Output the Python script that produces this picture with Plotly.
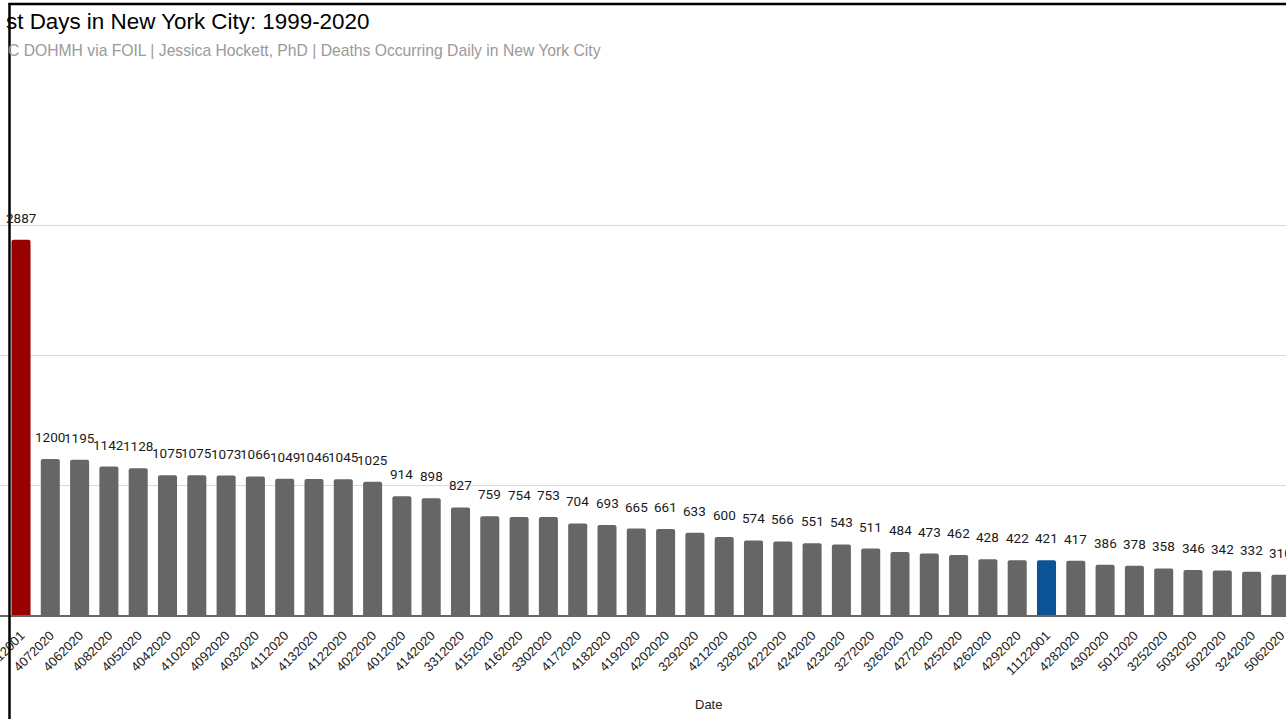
import plotly.graph_objects as go

dates = ["9112001", "4072020", "4062020", "4082020", "4052020", "4042020", "4102020",
         "4092020", "4032020", "4112020", "4132020", "4122020", "4022020", "4012020",
         "4142020", "3312020", "4152020", "4162020", "3302020", "4172020", "4182020",
         "4192020", "4202020", "3292020", "4212020", "3282020", "4222020", "4242020",
         "4232020", "3272020", "3262020", "4272020", "4252020", "4262020", "4292020",
         "11122001", "4282020", "4302020", "5012020", "3252020", "5032020", "5022020",
         "3242020", "5062020"]
deaths = [2887, 1200, 1195, 1142, 1128, 1075, 1075, 1073, 1066, 1049, 1046, 1045, 1025,
          914, 898, 827, 759, 754, 753, 704, 693, 665, 661, 633, 600, 574, 566, 551,
          543, 511, 484, 473, 462, 428, 422, 421, 417, 386, 378, 358, 346, 342, 332, 310]
highlight_colors = {"9112001": "#990000", "11122001": "#0b5394"}
default_color = "#666666"

title_text = "st Days in New York City: 1999-2020"
subtitle_text = "C DOHMH via FOIL | Jessica Hockett, PhD | Deaths Occurring Daily in New York City"
x_title = "Date"

W, H = 1286, 719
PLOT_TOP, PLOT_BOTTOM = 95, 615
PLOT_H = PLOT_BOTTOM - PLOT_TOP
SLOT = 29.3
FIRST_CENTER = 21.0


def px_x(p):
    return p / W


def px_y(p):
    return (PLOT_BOTTOM - p) / PLOT_H


colors = [highlight_colors.get(d, default_color) for d in dates]

fig = go.Figure()
fig.add_trace(go.Bar(
    x=dates, y=deaths, marker=dict(color=colors, cornerradius=2, line=dict(width=0)),
    width=0.65, hoverinfo="x+y", showlegend=False,
))

annotations = []
for i, v in enumerate(deaths):
    annotations.append(dict(
        x=i, y=v, xref="x", yref="y", text=str(v), showarrow=False,
        yanchor="bottom", xanchor="center", yshift=12,
        font=dict(family="Roboto", size=13.5, color="#1a1a1a"),
    ))

annotations += [
    dict(x=px_x(4), y=px_y(21), xref="paper", yref="paper", text=title_text,
         showarrow=False, xanchor="left", yanchor="middle",
         font=dict(family="Liberation Sans, Arial", size=22.4, color="#000000")),
    dict(x=px_x(6), y=px_y(50), xref="paper", yref="paper", text=subtitle_text,
         showarrow=False, xanchor="left", yanchor="middle",
         font=dict(family="Liberation Sans, Arial", size=15.7, color="#9a9a9a")),
    dict(x=px_x(708), y=px_y(704), xref="paper", yref="paper", text=x_title,
         showarrow=False, xanchor="center", yanchor="middle",
         font=dict(family="Liberation Sans, Arial", size=13, color="#222222")),
]

shapes = [
    dict(type="line", xref="paper", yref="paper", x0=px_x(9.5), x1=px_x(9.5),
         y0=px_y(3), y1=px_y(H), line=dict(color="#000000", width=2.5), layer="above"),
    dict(type="line", xref="paper", yref="paper", x0=px_x(8.5), x1=1.0,
         y0=px_y(4), y1=px_y(4), line=dict(color="#000000", width=2.5), layer="above"),
]

x_start = -FIRST_CENTER / SLOT
x_end = (W - FIRST_CENTER) / SLOT

fig.update_layout(
    width=W, height=H,
    margin=dict(l=0, r=0, t=PLOT_TOP, b=H - PLOT_BOTTOM, pad=0),
    paper_bgcolor="white", plot_bgcolor="white",
    annotations=annotations, shapes=shapes,
    xaxis=dict(
        type="category", range=[x_start, x_end], tickangle=-45,
        tickfont=dict(family="Liberation Sans, Arial", size=13, color="#222222"),
        showgrid=False, showline=True, linecolor="#666666", linewidth=1.5,
        ticks="outside", ticklen=6, tickcolor="rgba(0,0,0,0)", automargin=False,
    ),
    yaxis=dict(
        range=[0, 4000], dtick=1000, showticklabels=False, showgrid=True,
        gridcolor="#d9d9d9", gridwidth=1, zeroline=False, showline=False,
        automargin=False,
    ),
)

fig.write_html("out.html", config={"displayModeBar": False},
               post_script="document.body.style.margin='0';")
